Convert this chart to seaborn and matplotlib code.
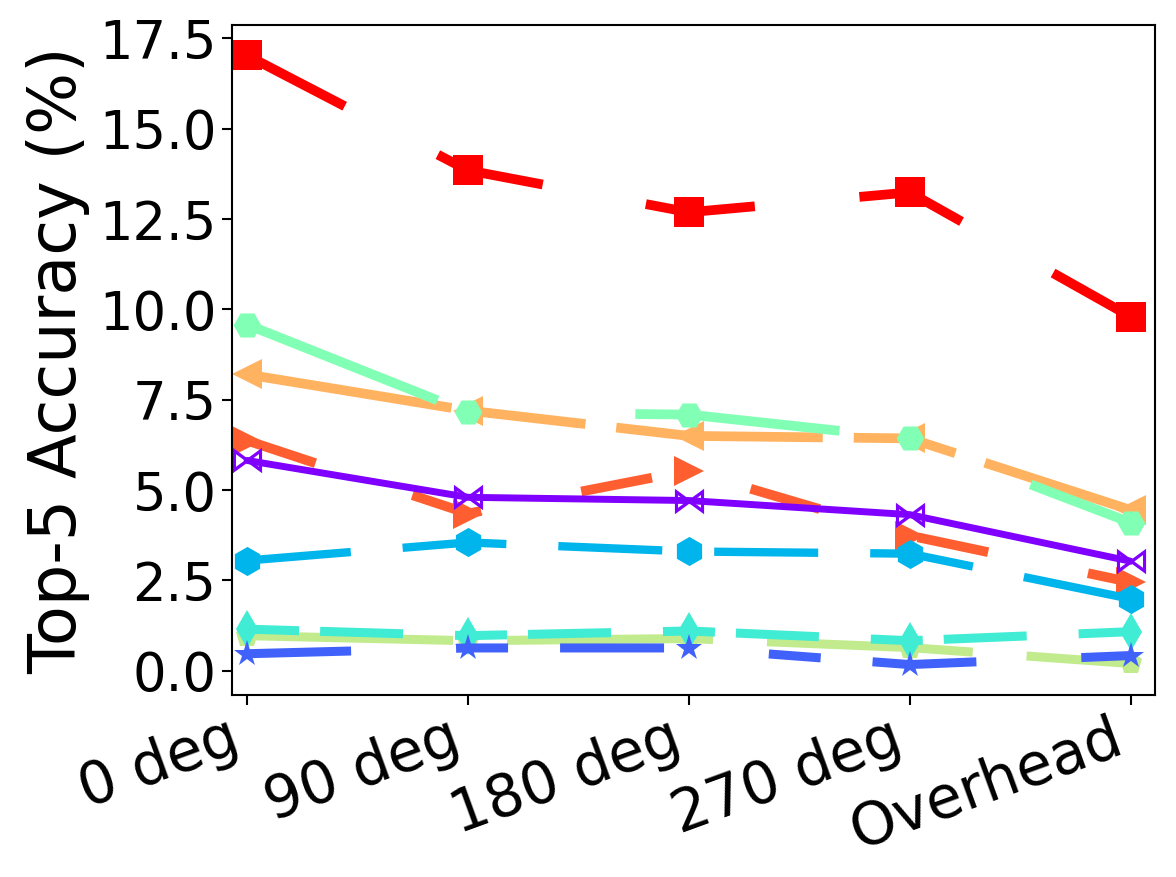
import numpy as np
import matplotlib
matplotlib.use("Agg")
import matplotlib.pyplot as plt
from matplotlib.ticker import MultipleLocator, FormatStrFormatter
import seaborn as sns

views = ["0 deg", "90 deg", "180 deg", "270 deg", "Overhead"]

# one list per method, top-5 accuracy in %
acc_red = [17.03, 13.85, 12.69, 13.24, 9.80]
acc_redorange = [6.37, 4.35, 5.54, 3.74, 2.45]
acc_orange = [8.20, 7.20, 6.50, 6.43, 4.45]
acc_yellowgreen = [0.97, 0.83, 0.89, 0.64, 0.20]
acc_lightgreen = [9.58, 7.15, 7.09, 6.43, 4.10]
acc_turquoise = [1.15, 0.97, 1.10, 0.83, 1.08]
acc_cyan = [3.05, 3.55, 3.30, 3.24, 1.99]
acc_blue = [0.47, 0.63, 0.63, 0.17, 0.42]
acc_purple = [5.82, 4.80, 4.71, 4.32, 3.03]

series = [acc_red, acc_redorange, acc_orange, acc_yellowgreen, acc_lightgreen,
          acc_turquoise, acc_cyan, acc_blue, acc_purple]
colors = plt.cm.rainbow(np.linspace(1, 0, 9))
markers = ["s", ">", "<", "p", "H", "d", "h", "*", r"$\bowtie$"]
msizes = [21.6, 21, 21, 17, 20, 19, 21, 20, 21]
lwidths = [7, 7, 7, 6.5, 7, 6.5, 6, 6.5, 5]
# dash patterns in points (scale_dashes off)
dash_px = [(110, 105), (72, 102), (207, 31, 104, 31), (206, 54), (205, 200),
           (52, 21, 83, 52), (104, 52), (104, 105, 52, 52), None]

sns.set_style("ticks", {"text.color": "black", "axes.labelcolor": "black",
                        "xtick.color": "black", "ytick.color": "black",
                        "axes.edgecolor": "black"})
plt.rcParams["lines.scale_dashes"] = False
plt.rcParams["font.family"] = ["DejaVu Sans"]

fig = plt.figure(figsize=(11.76, 8.77), dpi=100)
ax = fig.add_axes([0.197, 0.2075, 0.785, 0.764])

for vals, c, m, ms, lw, d in zip(series, colors, markers, msizes, lwidths, dash_px):
    if d is None:
        ls = "-"
    else:
        ls = (0, tuple(v * 0.72 for v in d))
    sns.lineplot(x=views, y=vals, ax=ax, color=c, marker=m, markersize=ms,
                 linewidth=lw, linestyle=ls, markeredgewidth=0, sort=False,
                 errorbar=None)

ax.set_xlim(-0.07, 4.11)
ax.yaxis.set_major_locator(MultipleLocator(2.5))
ax.yaxis.set_major_formatter(FormatStrFormatter("%.1f"))
ax.set_ylabel("Top-5 Accuracy (%)", fontsize=47, labelpad=6)
ax.tick_params(axis="y", labelsize=38, length=7, width=1.5, pad=4)
ax.tick_params(axis="x", labelsize=42, length=7, width=1.5, pad=3)
plt.setp(ax.get_xticklabels(), rotation=20, ha="right")
for sp in ax.spines.values():
    sp.set_linewidth(1.5)

fig.savefig("out.png", dpi=100)
